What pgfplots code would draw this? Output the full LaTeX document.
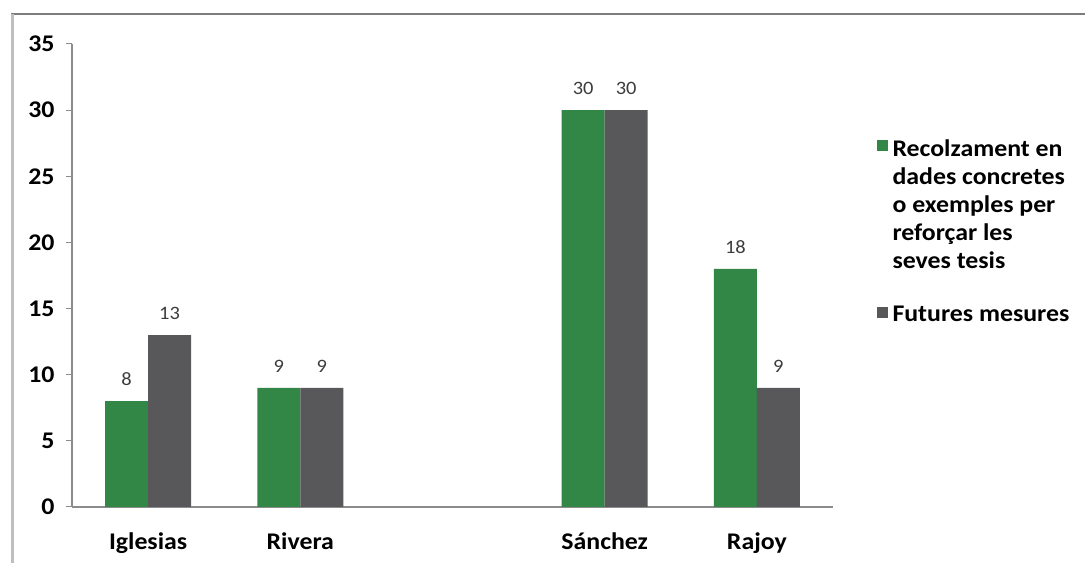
\documentclass[border=0pt]{standalone}
\usepackage{pgfplots}
\pgfplotsset{compat=1.18}
\usepackage{fontspec}
\setmainfont{Carlito}[FakeStretch=1.08]
\definecolor{cgreen}{RGB}{50,134,70}
\definecolor{cgray}{RGB}{88,88,90}
\definecolor{caxis}{RGB}{140,140,140}
\definecolor{clabel}{RGB}{60,60,60}
\begin{document}
\begin{tikzpicture}[x=1bp,y=1bp]
\useasboundingbox (0,0) rectangle (1085,563);
\fill[white] (0,0) rectangle (1085,563);
\draw[line width=2bp, color={rgb,255:red,125;green,125;blue,125}] (11,549) -- (1085,549);
\draw[line width=3bp, color={rgb,255:red,190;green,190;blue,190}] (12,549) -- (12,0);
\begin{axis}[
  at={(72bp,56bp)}, anchor=south west,
  scale only axis, width=761bp, height=463bp,
  xmin=-0.5, xmax=4.5, ymin=0, ymax=35,
  ytick={0,5,...,35},
  xtick={0,1,3,4},
  xticklabels={Iglesias,Rivera,S\'anchez,Rajoy},
  extra x ticks={-0.5,0.5,1.5,2.5,3.5,4.5},
  extra x tick labels={},
  extra x tick style={major tick length=6bp, tick style={caxis, line width=1bp}},
  axis x line=bottom, axis y line=left,
  axis line style={-, caxis, line width=1.2bp},
  x tick style={draw=none},
  y tick style={caxis, line width=1bp},
  major tick length=6bp,
  tick align=outside,
  ticklabel style={font=\fontsize{24}{28}\selectfont\bfseries, text=black},
  yticklabel style={xshift=-8bp},
  xticklabel style={yshift=-16bp},
  /pgf/number format/assume math mode=true,
  ybar=0pt, bar width=43bp,
  nodes near coords,
  every node near coord/.append style={font=\fontsize{19}{22}\selectfont, text=clabel, anchor=south, inner sep=0pt, yshift=15bp},
  legend style={at={(1.053,0.808)}, anchor=north west, draw=none, fill=none,
    font=\fontsize{24}{28}\selectfont\bfseries, row sep=144bp, column sep=3bp},
  legend cell align=left,
  legend image code/.code={\fill[#1] (0bp,-3bp) rectangle (11bp,8bp);},
]
\addplot[fill=cgreen, draw=none] coordinates {(0,8) (1,9) (3,30) (4,18)};
\addplot[fill=cgray, draw=none] coordinates {(0,13) (1,9) (3,30) (4,9)};
\legend{\begin{tabular}[t]{@{}l@{}}Recolzament en\\dades concretes\\o exemples per\\refor\c{c}ar les\\seves tesis\end{tabular}, Futures mesures}
\end{axis}
\end{tikzpicture}
\end{document}
